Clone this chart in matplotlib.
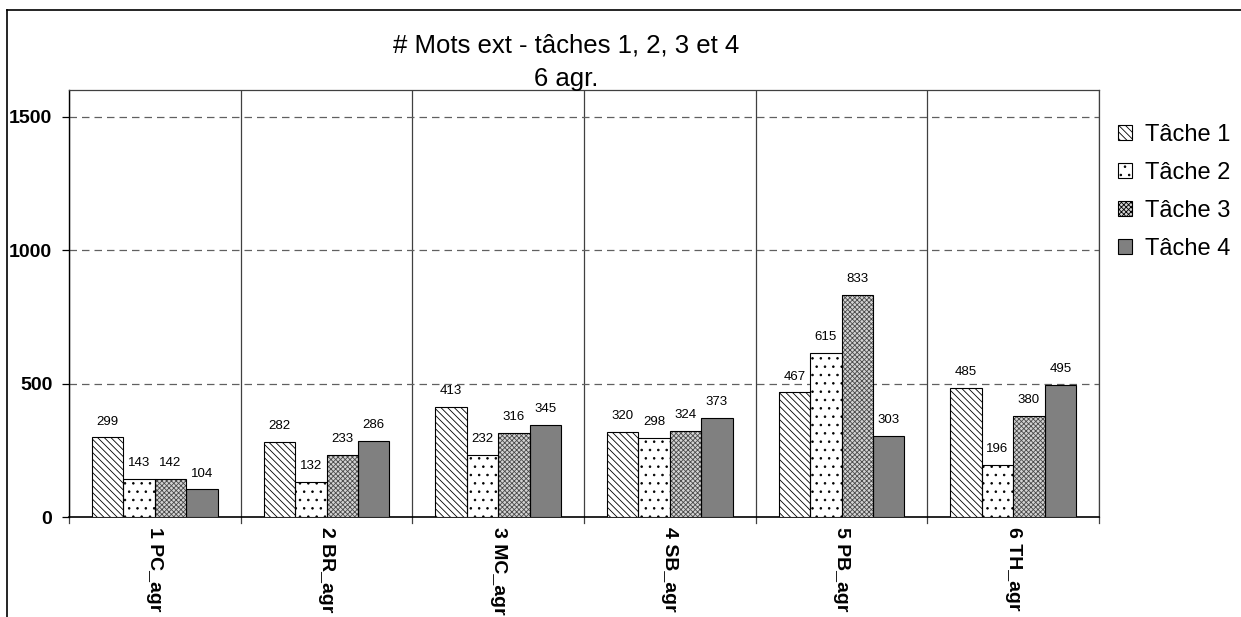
import numpy as np
import matplotlib
matplotlib.use("Agg")
import matplotlib.pyplot as plt
from matplotlib.lines import Line2D
from matplotlib.patches import Patch

# données
groupes = ["1 PC_agr", "2 BR_agr", "3 MC_agr", "4 SB_agr", "5 PB_agr", "6 TH_agr"]
taches = ["Tâche 1", "Tâche 2", "Tâche 3", "Tâche 4"]
tache1 = [299, 282, 413, 320, 467, 485]
tache2 = [143, 132, 232, 298, 615, 196]
tache3 = [142, 233, 316, 324, 833, 380]
tache4 = [104, 286, 345, 373, 303, 495]

plt.rcParams['font.family'] = ['Liberation Sans', 'DejaVu Sans']
plt.rcParams['hatch.linewidth'] = 0.6

fig = plt.figure(figsize=(12.41, 6.17), dpi=100)
ax = fig.add_axes([0.0556, 0.162, 0.83, 0.692])

# (fond, motif, couleur du motif)
styles = [
    ('white', '\\\\\\\\\\', 'black'),
    ('white', '..', 'black'),
    ('#d4d4d4', 'xxxxxxx', '#4a4a4a'),
    ('#808080', None, 'black'),
]

x = np.arange(len(groupes))
w = 0.183
series = [tache1, tache2, tache3, tache4]
for i, (vals, (fc, hatch, hc)) in enumerate(zip(series, styles)):
    pos = x + (i - 1.5) * w
    # motif d'abord, contour noir ensuite
    ax.bar(pos, vals, w, facecolor=fc, hatch=hatch, edgecolor=hc,
           linewidth=0, zorder=3)
    bars = ax.bar(pos, vals, w, facecolor='none', edgecolor='black',
                  linewidth=0.8, zorder=4)
    for b, v in zip(bars, vals):
        ax.annotate(str(v), (b.get_x() + b.get_width() / 2, v),
                    xytext=(0, 7), textcoords='offset points',
                    ha='center', va='bottom', fontsize=9.5)

ax.set_xlim(-0.5, len(groupes) - 0.5)
ax.set_ylim(0, 1600)

# séparateurs verticaux et grille
for s in np.arange(-0.5, len(groupes), 1.0):
    ax.axvline(s, color='#404040', linewidth=0.9, zorder=1)
for yv in [500, 1000, 1500]:
    ax.axhline(yv, color='#606060', linewidth=0.9, linestyle=(0, (6, 4)), zorder=1)

ax.set_yticks([0, 500, 1000, 1500])
ax.set_yticklabels(['0', '500', '1000', '1500'], fontweight='bold', fontsize=14)
ax.set_xticks(x)
ax.set_xticklabels(groupes, rotation=-90, fontweight='bold', fontsize=14,
                   va='top', ha='center')
ax.tick_params(axis='x', length=0, pad=7)
ax.tick_params(axis='y', direction='out', length=5, width=0.9, pad=7)
# petits traits sous l'axe x aux frontières
for s in np.arange(-0.5, len(groupes), 1.0):
    ax.plot([s, s], [0, -22], color='#404040', linewidth=0.9, clip_on=False)

for sp in ['top', 'right']:
    ax.spines[sp].set_linewidth(0.9)
    ax.spines[sp].set_color('#404040')
ax.spines['bottom'].set_linewidth(1.2)
ax.spines['left'].set_linewidth(1.0)

fig.text(0.456, 0.927, "# Mots ext - tâches 1, 2, 3 et 4", ha='center', va='center', fontsize=18.5)
fig.text(0.456, 0.872, "6 agr.", ha='center', va='center', fontsize=18.5)

# légende : poignées construites avec les mêmes styles
handles = [Patch(facecolor=fc, hatch=h, edgecolor='black', linewidth=0.8)
           for fc, h, hc in styles]
ax.legend(handles, taches, loc='upper left', bbox_to_anchor=(1.002, 0.96),
          frameon=False, fontsize=17, handlelength=0.6, handleheight=0.6,
          labelspacing=0.68, handletextpad=0.55, borderaxespad=0.3)

# cadre extérieur
fig.add_artist(Line2D([7 / 1241, 1.0], [1 - 10 / 617, 1 - 10 / 617], color='black', linewidth=1.2))
fig.add_artist(Line2D([7 / 1241, 7 / 1241], [0.0, 1 - 10 / 617], color='black', linewidth=1.2))

fig.savefig('out.png', dpi=100)
